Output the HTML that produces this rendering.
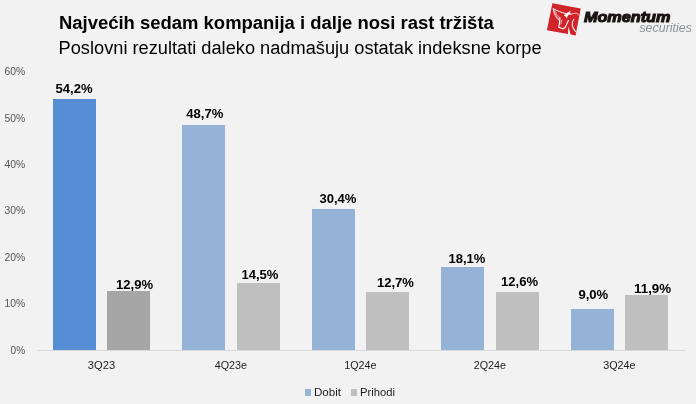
<!DOCTYPE html>
<html lang="hr">
<head>
<meta charset="utf-8">
<title>Najvećih sedam kompanija</title>
<style>
html,body{margin:0;padding:0;background:#f2f2f2;}
body{width:696px;height:404px;overflow:hidden;font-family:"Liberation Sans",sans-serif;}
svg{display:block;}
text{font-family:"Liberation Sans",sans-serif;}
.ax{font-size:10.6px;fill:#555;}
.cat{font-size:10.6px;fill:#1c1c1c;}
.dl{font-size:12.2px;font-weight:bold;fill:#000;}
.lg{font-size:10.6px;fill:#1c1c1c;}
</style>
</head>
<body>
<svg width="696" height="404" viewBox="0 0 696 404">
<rect x="0" y="0" width="696" height="404" fill="#f2f2f2"/>

<!-- title -->
<text x="59" y="28.9" font-size="18.3" font-weight="bold" fill="#000" textLength="434.8" lengthAdjust="spacingAndGlyphs">Najvećih sedam kompanija i dalje nosi rast tržišta</text>
<text x="58.6" y="53.7" font-size="17.6" fill="#000" textLength="483" lengthAdjust="spacingAndGlyphs">Poslovni rezultati daleko nadmašuju ostatak indeksne korpe</text>

<!-- y axis labels -->
<g class="ax" text-anchor="end">
<text x="25.2" y="75.1" textLength="20.7" lengthAdjust="spacingAndGlyphs">60%</text>
<text x="25.2" y="122" textLength="20.7" lengthAdjust="spacingAndGlyphs">50%</text>
<text x="25.2" y="167.6" textLength="20.7" lengthAdjust="spacingAndGlyphs">40%</text>
<text x="25.2" y="214" textLength="20.7" lengthAdjust="spacingAndGlyphs">30%</text>
<text x="25.2" y="260.8" textLength="20.7" lengthAdjust="spacingAndGlyphs">20%</text>
<text x="25.2" y="307" textLength="20.7" lengthAdjust="spacingAndGlyphs">10%</text>
<text x="25.2" y="353.9" textLength="14.6" lengthAdjust="spacingAndGlyphs">0%</text>
</g>

<!-- bars -->
<rect x="53" y="99" width="43" height="251" fill="#558ed5"/>
<rect x="107" y="291" width="43" height="59" fill="#a6a6a6"/>
<rect x="182" y="125" width="43" height="225" fill="#95b3d7"/>
<rect x="237" y="283" width="43" height="67" fill="#bfbfbf"/>
<rect x="312" y="209" width="43" height="141" fill="#95b3d7"/>
<rect x="366" y="292" width="43" height="58" fill="#bfbfbf"/>
<rect x="441" y="267" width="43" height="83" fill="#95b3d7"/>
<rect x="496" y="292" width="43" height="58" fill="#bfbfbf"/>
<rect x="571" y="309" width="43" height="41" fill="#95b3d7"/>
<rect x="625" y="295" width="43" height="55" fill="#bfbfbf"/>

<!-- axis line -->
<rect x="37" y="350" width="648" height="1" fill="#d9d9d9"/>

<!-- data labels -->
<g class="dl">
<text x="55.6" y="92.8" textLength="37" lengthAdjust="spacingAndGlyphs">54,2%</text>
<text x="116" y="288.5" textLength="37" lengthAdjust="spacingAndGlyphs">12,9%</text>
<text x="186.3" y="117.7" textLength="37" lengthAdjust="spacingAndGlyphs">48,7%</text>
<text x="241.4" y="279" textLength="37" lengthAdjust="spacingAndGlyphs">14,5%</text>
<text x="319.4" y="202.7" textLength="37" lengthAdjust="spacingAndGlyphs">30,4%</text>
<text x="376.9" y="287.4" textLength="37" lengthAdjust="spacingAndGlyphs">12,7%</text>
<text x="448.4" y="262.7" textLength="37" lengthAdjust="spacingAndGlyphs">18,1%</text>
<text x="501" y="286" textLength="37" lengthAdjust="spacingAndGlyphs">12,6%</text>
<text x="578.4" y="299" textLength="29.8" lengthAdjust="spacingAndGlyphs">9,0%</text>
<text x="634.1" y="292.7" textLength="37" lengthAdjust="spacingAndGlyphs">11,9%</text>
</g>

<!-- category labels -->
<g class="cat" text-anchor="middle">
<text x="101.5" y="368.6" textLength="27.3" lengthAdjust="spacingAndGlyphs">3Q23</text>
<text x="230.9" y="368.6" textLength="32.3" lengthAdjust="spacingAndGlyphs">4Q23e</text>
<text x="360.4" y="368.6" textLength="32.3" lengthAdjust="spacingAndGlyphs">1Q24e</text>
<text x="489.9" y="368.6" textLength="32.3" lengthAdjust="spacingAndGlyphs">2Q24e</text>
<text x="619.4" y="368.6" textLength="32.3" lengthAdjust="spacingAndGlyphs">3Q24e</text>
</g>

<!-- legend -->
<rect x="305" y="389" width="6" height="7" fill="#95b3d7"/>
<text class="lg" x="314" y="395.8" textLength="27" lengthAdjust="spacingAndGlyphs">Dobit</text>
<rect x="351" y="389" width="6" height="7" fill="#bfbfbf"/>
<text class="lg" x="360" y="395.8" textLength="35" lengthAdjust="spacingAndGlyphs">Prihodi</text>

<!-- logo -->
<g>
<path d="M552.4 3.2 L580.7 8.4 L576.6 30 L575.6 35.4 L570.6 34.5 L568.5 26.5 L567.9 34 L546.9 30.2 Z" fill="#d0232a"/>
<g fill="none" stroke="#fff" stroke-linecap="round" stroke-linejoin="round">
<path d="M553.2 8.5 C553.4 13 555.6 17.6 559.8 21.2" stroke-width="0.9" opacity="0.9"/>
<path d="M554.4 10.6 C554.8 14 556.6 17 559.6 19.4" stroke-width="0.8" opacity="0.8"/>
<path d="M555.6 11.6 C556.2 14 557.8 16.2 560.2 17.8" stroke-width="0.7" opacity="0.7"/>
<path d="M553.5 8.8 C557 10.6 561 12.5 566.2 13.8" stroke-width="1" opacity="0.95"/>
<path d="M559.9 17.8 C560 21 559.4 24.2 558.7 27.3 L563.2 28.9 L565.5 27 C566.2 24.8 567.5 22.6 568.4 20.6" stroke-width="1.15" opacity="0.95"/>
<path d="M561.8 20 L560.9 24" stroke-width="0.8" opacity="0.8"/>
<path d="M571.4 14.2 C573.6 13.2 576 13 577.4 13.5 C578 13.9 578.2 14.4 578.2 15" stroke-width="0.8" opacity="0.85"/>
<path d="M573.8 19.3 C571.3 22.8 571.9 27.4 575.6 31.6" stroke-width="1.1" opacity="0.9"/>
</g>
<path d="M563.8 15.4 C566 13.6 568.4 12 571 10.8 L569.8 12.8 L572 14.8 L568.8 14.4 C567.8 15.6 567.2 16.8 566.8 18.4 C566.2 16.8 565.2 15.8 563.8 15.4 Z" fill="#fff"/>
</g>
<text x="583.9" y="22" font-size="15" font-weight="bold" font-style="italic" fill="#1a1414" stroke="#1a1414" stroke-width="1.1" textLength="86.5" lengthAdjust="spacingAndGlyphs">Momentum</text>
<text x="639.4" y="31.7" font-size="13.5" font-style="italic" fill="#8d9299" textLength="52.6" lengthAdjust="spacingAndGlyphs">securities</text>
</svg>
</body>
</html>
